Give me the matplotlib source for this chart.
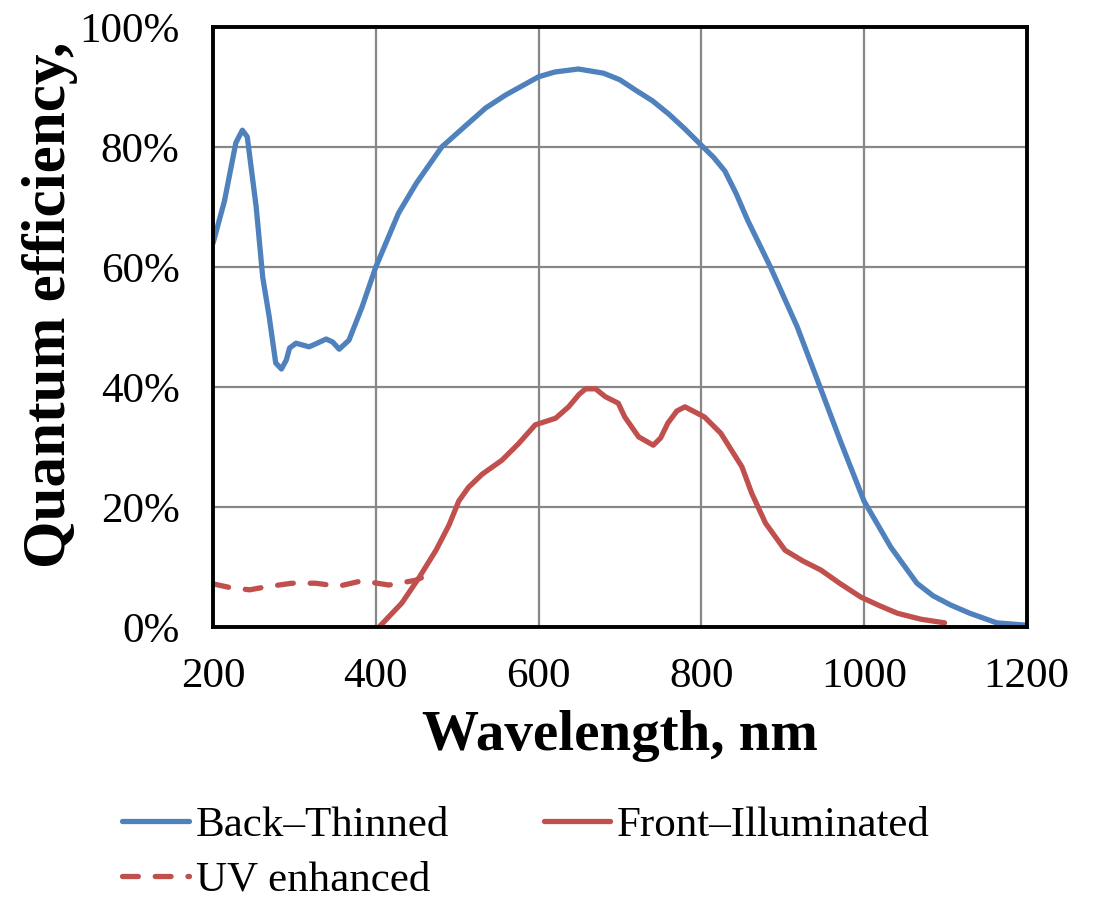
import matplotlib
matplotlib.use("Agg")
import matplotlib.pyplot as plt
from matplotlib.ticker import PercentFormatter

plt.rcParams['font.family'] = ['Liberation Serif', 'DejaVu Serif']

# Back-thinned CCD quantum efficiency (wavelength nm, QE %)
bt_wl = [200, 214, 228, 236, 242, 253, 261, 269, 277, 284, 290, 294, 302, 310,
         318, 328, 339, 347, 355, 367, 383, 400, 428, 450, 481, 500, 535, 560,
         600, 620, 649, 680, 700, 719, 740, 760, 780, 800, 815, 829, 843, 857,
         885, 918, 946, 971, 1000, 1033, 1065, 1085, 1106, 1130, 1163, 1200]
bt_qe = [64, 71, 80.7, 82.8, 81.7, 70, 58.3, 51.7, 44, 43, 44.5, 46.5, 47.3, 47,
         46.7, 47.3, 48, 47.5, 46.3, 47.8, 53.3, 60, 69, 74, 80, 82.3, 86.5, 88.7,
         91.7, 92.5, 93, 92.3, 91.2, 89.5, 87.7, 85.5, 83, 80.3, 78.3, 76, 72.2, 67.8,
         60, 50, 40, 31, 21, 13.3, 7.3, 5.2, 3.7, 2.3, 0.7, 0.3]

# Front-illuminated CCD
fi_wl = [404, 432, 453, 474, 490, 502, 514, 531, 555, 575, 596, 621, 637, 650,
         658, 670, 682, 698, 706, 723, 741, 750, 759, 770, 780, 804, 824, 850,
         862, 879, 903, 925, 947, 970, 996, 1020, 1041, 1070, 1099]
fi_qe = [0, 4, 8.2, 12.8, 17, 21, 23.3, 25.5, 27.8, 30.5, 33.7, 34.8, 36.7, 38.8,
         39.7, 39.7, 38.4, 37.3, 35, 31.7, 30.3, 31.5, 34, 36, 36.7, 35, 32.3, 26.7,
         22.3, 17.3, 12.8, 11, 9.5, 7.3, 5, 3.5, 2.3, 1.3, 0.7]

# UV enhanced coating (below 460 nm)
uv_wl = [200, 220, 245, 265, 297, 326, 354, 383, 416, 449, 456]
uv_qe = [7.2, 6.6, 6.2, 6.7, 7.3, 7.3, 6.8, 7.7, 7.0, 7.8, 8.2]

blue = '#4F81BD'
red = '#C0504D'

fig = plt.figure(figsize=(11.04, 9), dpi=100)
ax = fig.add_axes([0.193, 0.3033, 0.737, 0.6667])

l1, = ax.plot(bt_wl, bt_qe, color=blue, lw=3.8, solid_capstyle='round',
              solid_joinstyle='round', label='Back\u2013Thinned')
l2, = ax.plot(fi_wl, fi_qe, color=red, lw=3.8, solid_capstyle='round',
              solid_joinstyle='round', label='Front\u2013Illuminated')
l3, = ax.plot(uv_wl, uv_qe, color=red, lw=3.8, dashes=(3.0, 3.2),
              dash_capstyle='round', label='UV enhanced')

ax.set_xlim(200, 1200)
ax.set_ylim(0, 100)
ax.set_xticks(range(200, 1201, 200))
ax.set_yticks(range(0, 101, 20))
ax.yaxis.set_major_formatter(PercentFormatter(decimals=0))
ax.grid(True, color='#878787', lw=1.6)
ax.set_axisbelow(True)
for s in ax.spines.values():
    s.set_linewidth(2.8)
    s.set_color('black')
ax.tick_params(length=0, labelsize=31)
ax.tick_params(axis='y', pad=24)
ax.tick_params(axis='x', pad=22)

fig.text(620 / 1104, 1 - 736 / 900, 'Wavelength, nm', fontsize=41,
         fontweight='bold', ha='center', va='center')
fig.text(50 / 1104, 1 - 305 / 900, 'Quantum efficiency,', fontsize=44,
         fontweight='bold', ha='center', va='center', rotation=90)

fig.legend([l1, l3, l2], [l1.get_label(), l3.get_label(), l2.get_label()],
           loc='upper left', bbox_to_anchor=(118 / 1104, 1 - 802 / 900),
           ncol=2, frameon=False, fontsize=31, handlelength=1.55,
           handletextpad=0.15, columnspacing=2.2, labelspacing=0.35,
           borderaxespad=0, borderpad=0.1)

fig.savefig('out.png', dpi=100)
